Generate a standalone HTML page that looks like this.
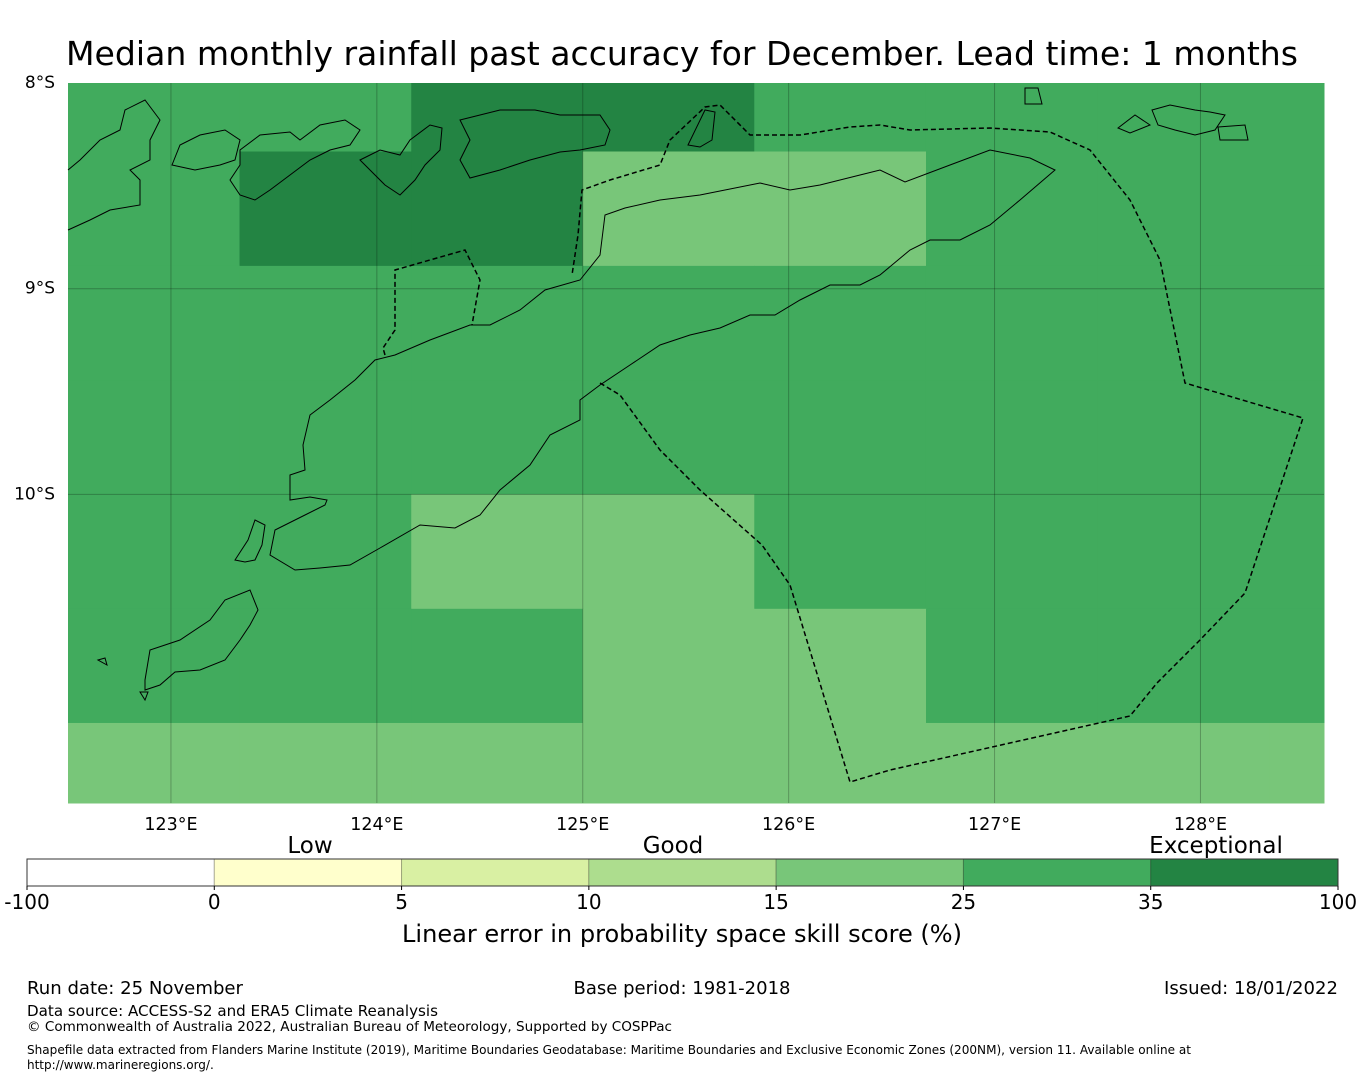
<!DOCTYPE html>
<html><head><meta charset="utf-8"><style>
body{margin:0;background:#fff;width:1365px;height:1080px;overflow:hidden;font-family:"DejaVu Sans","Liberation Sans",sans-serif}
svg{position:absolute;left:0;top:0}
</style></head><body>
<svg id="chart" width="1365" height="1080" font-family="DejaVu Sans, Liberation Sans, sans-serif">
<text x="682" y="65" font-size="33" text-anchor="middle" textLength="1232" lengthAdjust="spacingAndGlyphs">Median monthly rainfall past accuracy for December. Lead time: 1 months</text>
<g id="cells"></g>
<g id="grid"></g>
<g id="coast" fill="none" stroke="#000" stroke-width="1">
<path d="M290,500 L290,475 L305,470 L303,445 L310,415 L330,400 L355,380 L375,360 L395,355 L430,340 L470,325 L490,325 L520,310 L545,290 L580,280 L600,255 L605,215 L625,208 L660,200 L700,195 L760,183 L790,190 L820,185 L860,175 L880,170 L905,182 L950,165 L990,150 L1030,158 L1055,170 L1020,200 L990,225 L960,240 L930,240 L910,250 L880,275 L860,285 L830,285 L800,300 L775,315 L750,315 L720,328 L690,335 L660,345 L630,365 L600,385 L580,400 L580,420 L550,435 L530,465 L500,490 L480,515 L455,528 L420,525 L380,548 L350,565 L320,568 L295,570 L270,555 L275,530 L305,515 L325,505 L327,500 L310,497 Z"/>
<path d="M460,120 L500,110 L535,110 L560,115 L600,115 L610,130 L605,145 L580,150 L560,152 L530,160 L500,170 L470,178 L460,160 L470,140 Z"/>
<path d="M688,145 L705,110 L715,112 L712,140 L700,147 Z"/>
<path d="M68,230 L90,220 L110,210 L140,205 L140,180 L130,170 L150,160 L150,140 L160,120 L145,100 L125,110 L120,130 L100,140 L80,160 L68,170"/>
<path d="M172,165 L180,145 L200,135 L225,130 L240,140 L235,160 L220,165 L195,170 Z"/>
<path d="M240,150 L260,135 L290,132 L300,140 L320,125 L345,120 L360,130 L350,145 L330,150 L310,160 L290,175 L270,190 L255,200 L240,195 L230,180 L240,165 Z"/>
<path d="M360,160 L380,150 L400,155 L410,140 L430,125 L442,128 L440,150 L425,165 L415,180 L400,195 L385,185 L375,175 Z"/>
<path d="M145,680 L150,650 L180,640 L210,620 L225,600 L250,590 L258,610 L250,625 L240,640 L225,660 L200,670 L175,672 L160,685 L145,690 Z"/>
<path d="M1025,88 L1038,88 L1042,104 L1025,104 Z"/>
<path d="M1152,110 L1170,105 L1195,110 L1210,112 L1225,115 L1215,130 L1195,135 L1175,130 L1158,125 Z"/>
<path d="M1118,128 L1135,115 L1150,125 L1130,133 Z"/>
<path d="M1218,127 L1245,125 L1248,140 L1220,140 Z"/>
<path d="M140,692 L145,700 L148,692 Z"/>
<path d="M98,660 L105,658 L107,665 Z"/>
<path d="M235,560 L248,540 L255,520 L265,525 L262,545 L255,560 L245,562 Z"/>
</g>
<path fill="none" stroke="#000" stroke-width="1.5" stroke-dasharray="5,3" d="M600,383 L620,395 L660,450 L700,490 L762,545 L790,585 L850,782 L890,770 L1130,716 L1157,683 L1200,640 L1245,593 L1303,418 L1185,383 L1160,260 L1130,200 L1090,150 L1050,132 L990,128 L910,130 L880,125 L850,127 L800,135 L750,135 L720,105 L705,107 L670,140 L660,165 L610,180 L582,190 L578,235 L572,275"/>
<path fill="none" stroke="#000" stroke-width="1.5" stroke-dasharray="5,3" d="M385,355 L383,348 L395,330 L395,270 L430,260 L465,250 L480,280 L472,325"/>
<g id="axislabels"></g>
<g id="cbar"></g>
<text x="310" y="853" font-size="23" text-anchor="middle">Low</text>
<text x="673" y="853" font-size="23" text-anchor="middle">Good</text>
<text x="1216" y="853" font-size="23" text-anchor="middle">Exceptional</text>
<text x="682" y="942" font-size="24" text-anchor="middle" textLength="560" lengthAdjust="spacingAndGlyphs">Linear error in probability space skill score (%)</text>
<text x="27" y="994" font-size="18" textLength="216" lengthAdjust="spacingAndGlyphs">Run date: 25 November</text>
<text x="682" y="994" font-size="18" text-anchor="middle" textLength="217" lengthAdjust="spacingAndGlyphs">Base period: 1981-2018</text>
<text x="1338" y="994" font-size="18" text-anchor="end" textLength="174" lengthAdjust="spacingAndGlyphs">Issued: 18/01/2022</text>
<text x="27" y="1016" font-size="15" textLength="411" lengthAdjust="spacingAndGlyphs">Data source: ACCESS-S2 and ERA5 Climate Reanalysis</text>
<text x="27" y="1031" font-size="13.5" textLength="645" lengthAdjust="spacingAndGlyphs">© Commonwealth of Australia 2022, Australian Bureau of Meteorology, Supported by COSPPac</text>
<text x="27" y="1054" font-size="12" textLength="1164" lengthAdjust="spacingAndGlyphs">Shapefile data extracted from Flanders Marine Institute (2019), Maritime Boundaries Geodatabase: Maritime Boundaries and Exclusive Economic Zones (200NM), version 11. Available online at</text>
<text x="27" y="1069" font-size="12">http://www.marineregions.org/.</text>
</svg>
<script>
const lonEdges=[122.5,123.333,124.167,125.0,125.833,126.667,127.5,128.333,128.6];
const latEdges=[8.0,8.333,8.889,9.444,10.0,10.556,11.111,11.5];
// category index: 4=15-25, 5=25-35, 6=35-100
const skill=[
 [5,5,6,6,5,5,5,5],
 [5,6,6,4,4,5,5,5],
 [5,5,5,5,5,5,5,5],
 [5,5,5,5,5,5,5,5],
 [5,5,4,4,5,5,5,5],
 [5,5,5,4,4,5,5,5],
 [4,4,4,4,4,4,4,4]
];
const cbTicks=["-100","0","5","10","15","25","35","100"];
const cbColors=["#ffffff","#ffffcc","#d9f0a3","#addd8e","#78c679","#41ab5d","#238443"];
const lonTicks=[123,124,125,126,127,128];
const latTicks=[8,9,10];
const ns="http://www.w3.org/2000/svg";
const X0=68,X1=1324,Y0=83,Y1=803;
const x=lon=>X0+(lon-122.5)/(128.6-122.5)*(X1-X0);
const y=lat=>Y0+(lat-8)/(11.5-8)*(Y1-Y0);
function mk(t,a,p){const e=document.createElementNS(ns,t);for(const k in a)e.setAttribute(k,a[k]);p.appendChild(e);return e;}
const cells=document.getElementById('cells');
skill.forEach((row,i)=>row.forEach((v,j)=>{
 const r=mk('rect',{x:x(lonEdges[j]),y:y(latEdges[i]),width:x(lonEdges[j+1])-x(lonEdges[j])+0.5,height:y(latEdges[i+1])-y(latEdges[i])+0.5,fill:cbColors[v]},cells);
 
 
}));
const g=document.getElementById('grid'),al=document.getElementById('axislabels');
lonTicks.forEach(l=>{
 const ln=mk('line',{x1:x(l),x2:x(l),y1:Y0,y2:Y1,stroke:'#000','stroke-opacity':0.25,'stroke-width':1},g);
 
 
 const t=mk('text',{x:x(l),y:830,'font-size':17.5,'text-anchor':'middle'},al);t.textContent=l+'°E';
 
 
});
latTicks.forEach(l=>{
 if(l>8){const ln=mk('line',{x1:X0,x2:X1,y1:y(l),y2:y(l),stroke:'#000','stroke-opacity':0.25,'stroke-width':1},g);
 
 }
 const t=mk('text',{x:55,y:y(l)+5,'font-size':17,'text-anchor':'end'},al);t.textContent=l+'°S';
 
 
});
const cb=document.getElementById('cbar');
const CX0=27,CX1=1338,CY=859,CH=27,cw=(CX1-CX0)/cbColors.length;
cbColors.forEach((c,i)=>{
 const r=mk('rect',{x:CX0+i*cw,y:CY,width:cw,height:CH,fill:c,stroke:'rgba(0,0,0,0.25)','stroke-width':1},cb);
 
 
});
mk('rect',{x:CX0,y:CY,width:CX1-CX0,height:CH,fill:'none',stroke:'#333','stroke-width':1},cb);
cbTicks.forEach((t,i)=>{
 mk('line',{x1:CX0+i*cw,x2:CX0+i*cw,y1:CY+CH,y2:CY+CH+4,stroke:'#000'},cb);
 const e=mk('text',{x:CX0+i*cw,y:909,'font-size':20,'text-anchor':'middle'},cb);e.textContent=t;
 
 
});
</script>
</body></html>
